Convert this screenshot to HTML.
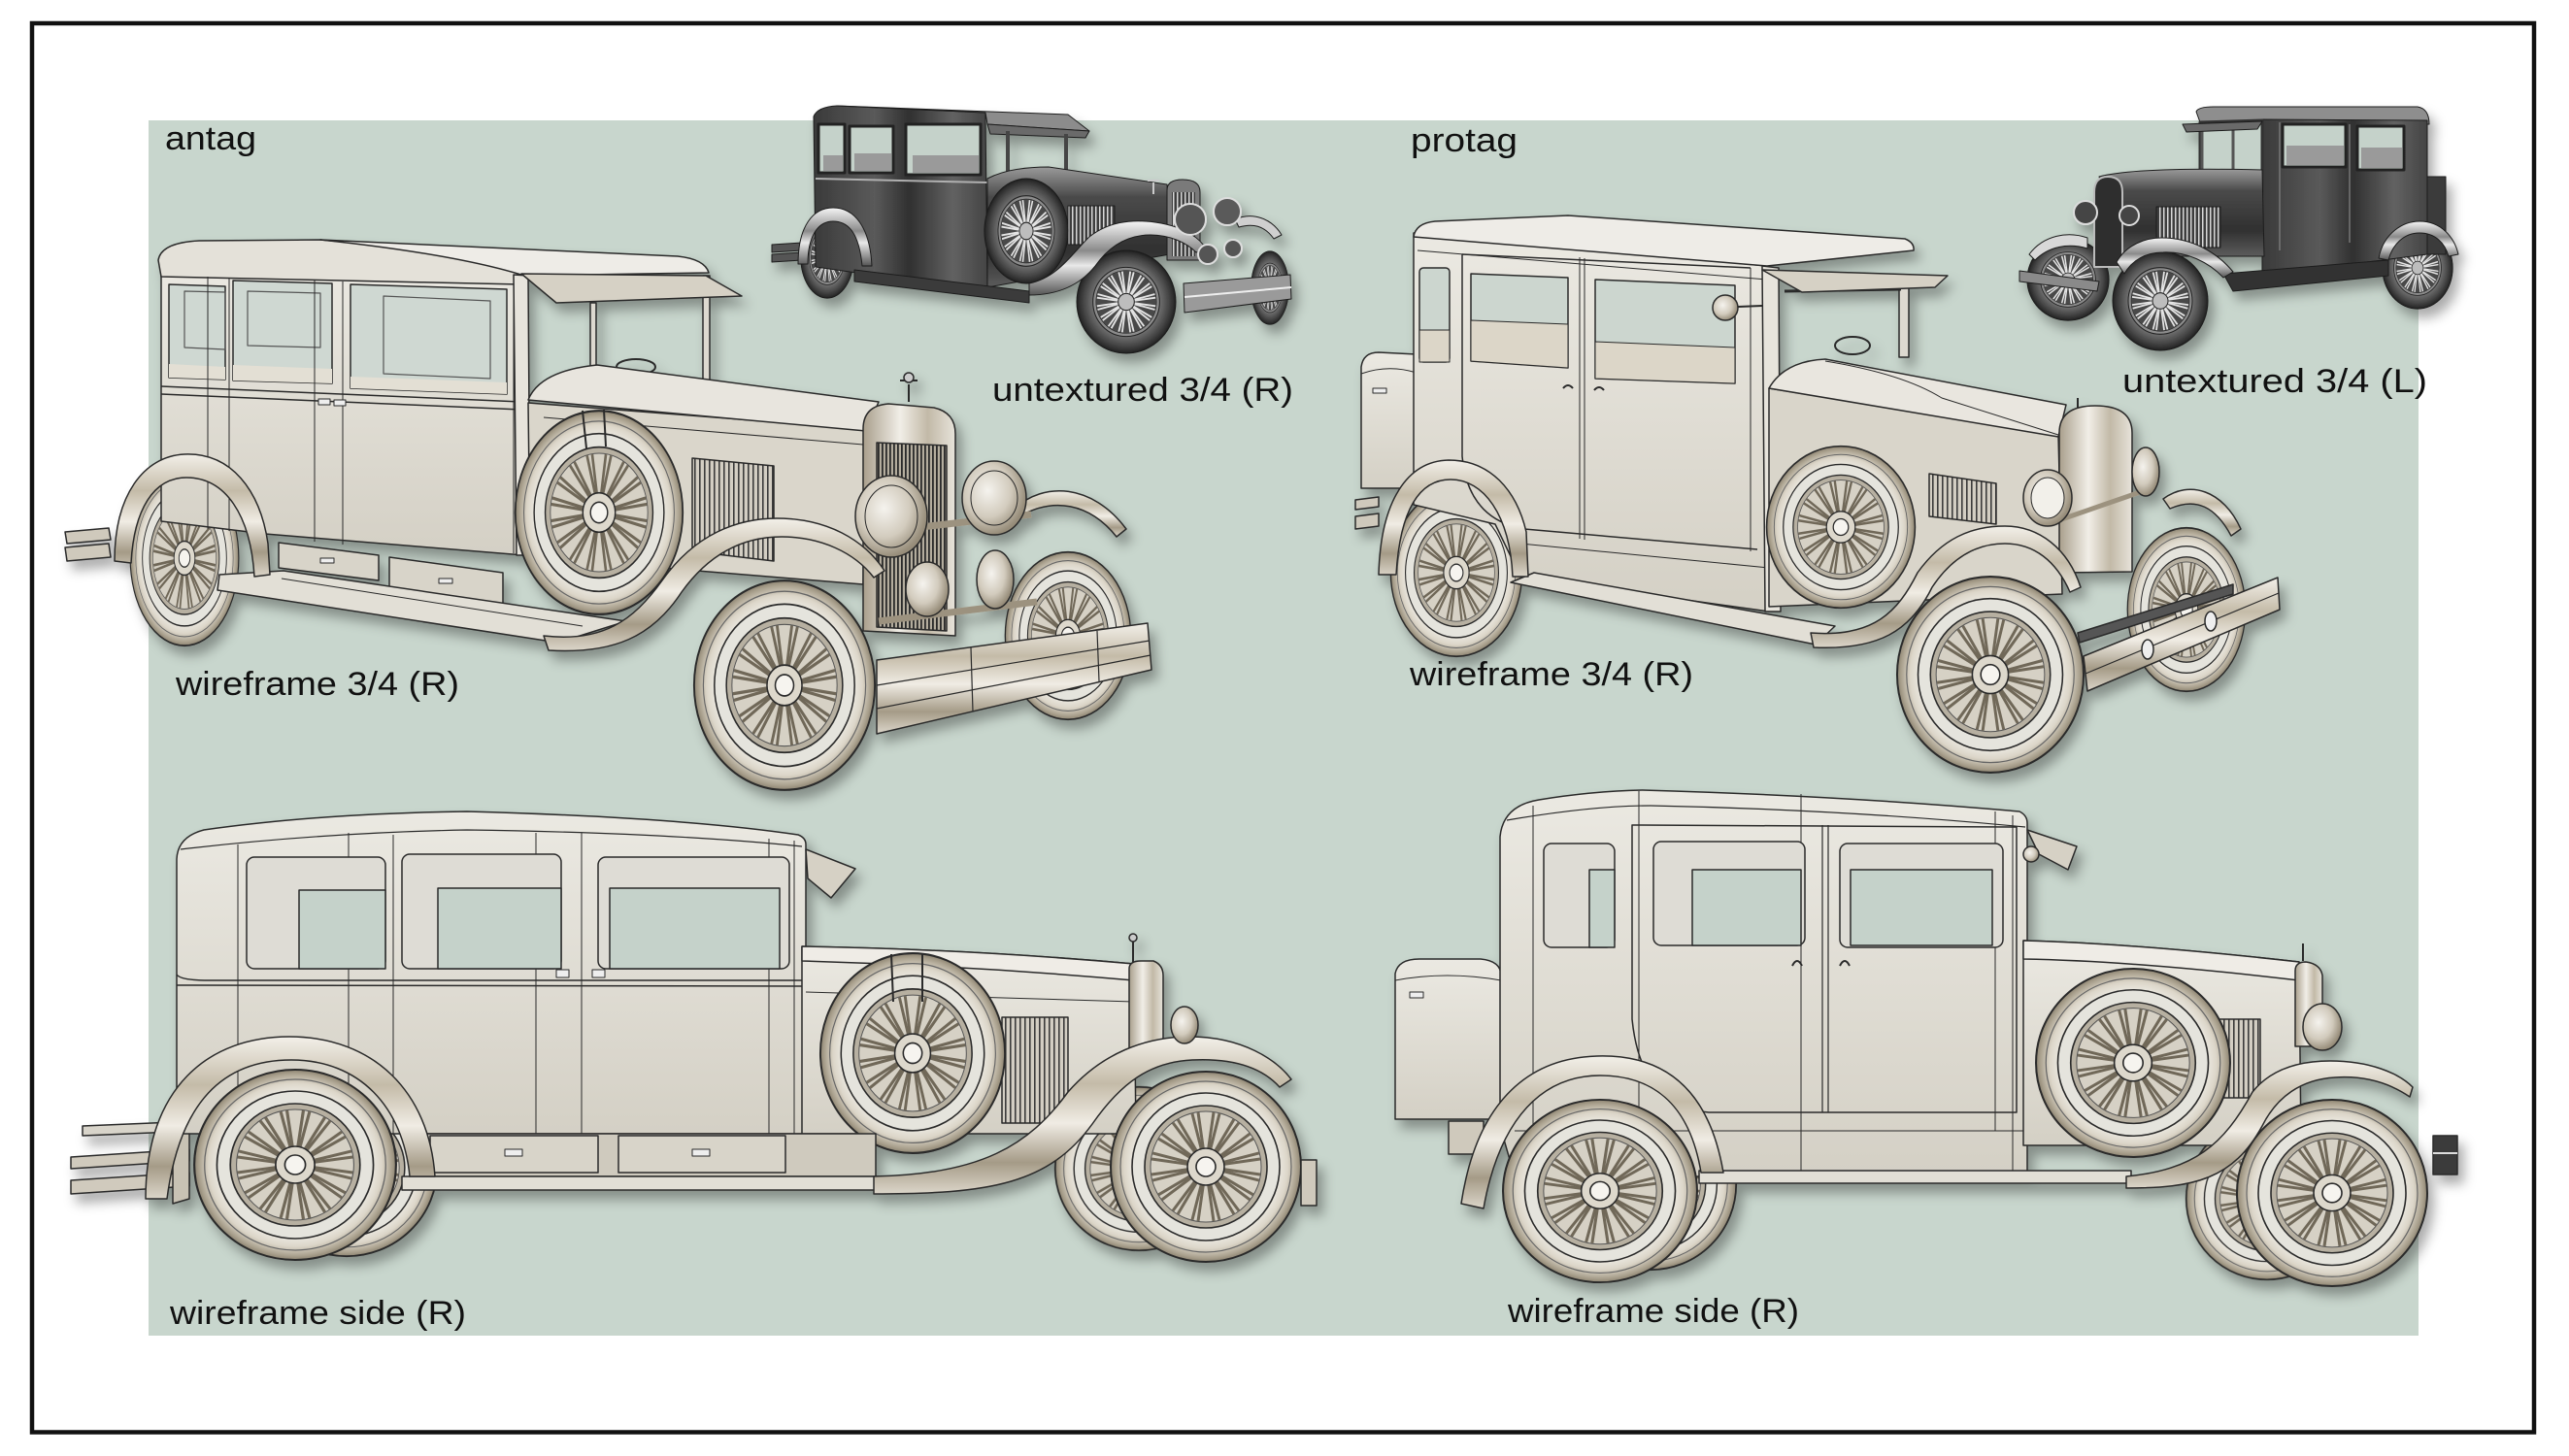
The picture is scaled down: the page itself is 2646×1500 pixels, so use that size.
<!DOCTYPE html>
<html><head><meta charset="utf-8">
<style>
html,body{margin:0;padding:0;background:#fff;width:2646px;height:1500px;overflow:hidden}
svg{display:block}
text{font-family:"Liberation Sans","DejaVu Sans",sans-serif;fill:#111}
</style></head>
<body>
<svg width="2646" height="1500" viewBox="0 0 2646 1500" xmlns="http://www.w3.org/2000/svg">
<defs>
  <filter id="sh" x="-10%" y="-10%" width="130%" height="130%">
    <feDropShadow dx="6" dy="9" stdDeviation="6" flood-color="#000" flood-opacity="0.33"/>
  </filter>
  <linearGradient id="body" x1="0" y1="0" x2="0" y2="1">
    <stop offset="0" stop-color="#ebe9e2"/><stop offset="1" stop-color="#d4d0c5"/>
  </linearGradient>
  <linearGradient id="chrome" x1="0" y1="0" x2="0" y2="1">
    <stop offset="0" stop-color="#f3f0e9"/><stop offset="0.3" stop-color="#c4bba8"/>
    <stop offset="0.55" stop-color="#f0ece4"/><stop offset="0.8" stop-color="#a59b87"/>
    <stop offset="1" stop-color="#dcd6ca"/>
  </linearGradient>
  <linearGradient id="chromeH" x1="0" y1="0" x2="1" y2="0">
    <stop offset="0" stop-color="#a99f8c"/><stop offset="0.4" stop-color="#f1eee7"/>
    <stop offset="0.7" stop-color="#c2b9a7"/><stop offset="1" stop-color="#e7e3da"/>
  </linearGradient>
  <radialGradient id="chromeR" cx="0.4" cy="0.4" r="0.6">
    <stop offset="0" stop-color="#f5f3ee"/><stop offset="0.6" stop-color="#d2cbbd"/>
    <stop offset="1" stop-color="#978d7a"/>
  </radialGradient>
  <radialGradient id="tire" cx="0.5" cy="0.5" r="0.5">
    <stop offset="0.74" stop-color="#eeece5"/><stop offset="0.86" stop-color="#dcd6c9"/>
    <stop offset="0.96" stop-color="#a89f8c"/><stop offset="1" stop-color="#8c8371"/>
  </radialGradient>
  <radialGradient id="dtire" cx="0.5" cy="0.5" r="0.5">
    <stop offset="0.68" stop-color="#6e6e6e"/><stop offset="0.85" stop-color="#484848"/>
    <stop offset="1" stop-color="#222"/>
  </radialGradient>
  <linearGradient id="dmetal" x1="0" y1="0" x2="1" y2="0">
    <stop offset="0" stop-color="#3a3a3a"/><stop offset="0.35" stop-color="#5a5a5a"/>
    <stop offset="0.55" stop-color="#303030"/><stop offset="0.8" stop-color="#626262"/>
    <stop offset="1" stop-color="#444"/>
  </linearGradient>
  <linearGradient id="dmetal2" x1="0" y1="0" x2="0" y2="1">
    <stop offset="0" stop-color="#9a9a9a"/><stop offset="0.25" stop-color="#4a4a4a"/>
    <stop offset="0.7" stop-color="#303030"/><stop offset="1" stop-color="#5c5c5c"/>
  </linearGradient>
  <linearGradient id="dchrome" x1="0" y1="0" x2="0" y2="1">
    <stop offset="0" stop-color="#f6f6f6"/><stop offset="0.4" stop-color="#8a8a8a"/>
    <stop offset="0.6" stop-color="#e9e9e9"/><stop offset="1" stop-color="#555"/>
  </linearGradient>
  <pattern id="lv" width="5" height="10" patternUnits="userSpaceOnUse">
    <rect width="5" height="10" fill="#d3cec3"/><rect width="1.6" height="10" fill="#3a3a3a"/>
  </pattern>
  <pattern id="lvd" width="4" height="10" patternUnits="userSpaceOnUse">
    <rect width="4" height="10" fill="#b4ad9e"/><rect width="1.8" height="10" fill="#2a2a2a"/>
  </pattern>
  <pattern id="lvg" width="4" height="10" patternUnits="userSpaceOnUse">
    <rect width="4" height="10" fill="#3c3c3c"/><rect width="1.5" height="10" fill="#d8d8d8"/>
  </pattern>

  <symbol id="wh" viewBox="-100 -100 200 200" preserveAspectRatio="none">
    <circle r="98" fill="url(#tire)" stroke="#2b2b2b" stroke-width="2"/>
    <circle r="88" fill="none" stroke="#666" stroke-width="1.2"/>
    <circle r="76" fill="#e5e4dd" stroke="#2b2b2b" stroke-width="1.6"/>
    <circle r="63" fill="#b7b0a1" stroke="#2b2b2b" stroke-width="1.6"/>
    <circle r="57" fill="#d6d1c5" stroke="#555" stroke-width="1"/>
    <g stroke="#6f6759" stroke-width="3" fill="none">
      <path d="M-8,-56L8,56M8,-56L-8,56"/>
      <path d="M-8,-56L8,56M8,-56L-8,56" transform="rotate(22.5)"/>
      <path d="M-8,-56L8,56M8,-56L-8,56" transform="rotate(45)"/>
      <path d="M-8,-56L8,56M8,-56L-8,56" transform="rotate(67.5)"/>
      <path d="M-8,-56L8,56M8,-56L-8,56" transform="rotate(90)"/>
      <path d="M-8,-56L8,56M8,-56L-8,56" transform="rotate(112.5)"/>
      <path d="M-8,-56L8,56M8,-56L-8,56" transform="rotate(135)"/>
      <path d="M-8,-56L8,56M8,-56L-8,56" transform="rotate(157.5)"/>
    </g>
    <circle r="19" fill="#ddd8cc" stroke="#2b2b2b" stroke-width="1.6"/>
    <circle r="10" fill="#f6f4ef" stroke="#2b2b2b" stroke-width="1.6"/>
  </symbol>

  <symbol id="whd" viewBox="-100 -100 200 200" preserveAspectRatio="none">
    <circle r="98" fill="url(#dtire)" stroke="#1a1a1a" stroke-width="2"/>
    <circle r="66" fill="#8c8c8c" stroke="#222" stroke-width="2"/>
    <circle r="60" fill="#4a4a4a"/>
    <g stroke="#e4e4e4" stroke-width="3.5" fill="none">
      <path d="M-8,-58L8,58M8,-58L-8,58"/>
      <path d="M-8,-58L8,58M8,-58L-8,58" transform="rotate(22.5)"/>
      <path d="M-8,-58L8,58M8,-58L-8,58" transform="rotate(45)"/>
      <path d="M-8,-58L8,58M8,-58L-8,58" transform="rotate(67.5)"/>
      <path d="M-8,-58L8,58M8,-58L-8,58" transform="rotate(90)"/>
      <path d="M-8,-58L8,58M8,-58L-8,58" transform="rotate(112.5)"/>
      <path d="M-8,-58L8,58M8,-58L-8,58" transform="rotate(135)"/>
      <path d="M-8,-58L8,58M8,-58L-8,58" transform="rotate(157.5)"/>
    </g>
    <circle r="16" fill="#bdbdbd" stroke="#222" stroke-width="2"/>
  </symbol>
</defs>

<rect width="2646" height="1500" fill="#fff"/>
<rect x="33" y="24" width="2577" height="1451.5" fill="none" stroke="#111" stroke-width="4.5"/>
<rect x="153" y="124" width="2338" height="1252" fill="#c8d6cd"/>

<!-- ================= CAR 2 : antag untextured ================= -->
<g filter="url(#sh)" stroke="#1e1e1e" stroke-width="1" stroke-linejoin="round">
  <use href="#whd" x="1288" y="258" width="40" height="77"/>
  <path d="M795,252 L826,250 L826,258 L795,260 Z M795,262 L826,260 L826,268 L795,270 Z" fill="#555"/>
  <use href="#whd" x="824" y="222" width="56" height="86"/>
  <path d="M838,120 Q842,110 862,109 L1015,116 L1017,300 L840,275 Z" fill="url(#dmetal)"/>
  <path d="M862,109 L1100,118 L1122,135 L1017,128 L1015,116 Z" fill="#8c8c8c"/>
  <path d="M1017,128 L1122,135 L1118,142 L1020,138 Z" fill="#6a6a6a"/>
  <path d="M843,128 H870 V178 H843 Z M875,130 H920 V178 H875 Z M933,128 H1010 V180 H933 Z" fill="#c5d2ca" stroke="#222" stroke-width="3"/>
  <path d="M848,160 H868 V176 H848 Z M880,158 H918 V176 H880 Z M940,160 H1008 V178 H940 Z" fill="#9a9a9a" stroke="none"/>
  <path d="M840,184 L1017,188" stroke="#b0b0b0" stroke-width="2" fill="none"/>
  <path d="M1038,135 V186 M1098,138 V190" stroke="#444" stroke-width="4" fill="none"/>
  <path d="M1017,184 Q1040,172 1080,172 L1202,190 L1205,262 L1017,296 Z" fill="url(#dmetal2)"/>
  <rect x="1100" y="212" width="48" height="40" fill="url(#lvg)"/>
  <path d="M1202,196 Q1202,185 1218,185 Q1236,185 1236,198 L1236,268 L1202,268 Z" fill="#7a7a7a"/>
  <rect x="1207" y="198" width="24" height="66" fill="url(#lvg)" stroke="none"/>
  <use href="#whd" x="1013" y="183" width="88" height="110"/>
  <path d="M880,278 L1060,300 L1060,312 L880,290 Z" fill="#3a3a3a"/>
  <path d="M822,272 C822,232 838,214 858,214 C880,214 896,234 898,274 L888,274 C885,242 875,228 858,228 C842,228 832,244 832,272 Z" fill="url(#dchrome)"/>
  <path d="M1272,226 C1290,218 1310,225 1320,242 L1312,246 C1302,232 1290,230 1276,234 Z" fill="#cfcfcf"/>
  <use href="#whd" x="1108" y="257" width="104" height="108"/>
  <path d="M1060,292 C1090,286 1105,260 1122,244 C1142,228 1168,225 1196,230 C1222,235 1236,246 1242,256 L1232,260 C1222,250 1205,242 1185,242 C1160,242 1142,254 1128,274 C1112,294 1090,304 1060,304 Z" fill="url(#dchrome)"/>
  <circle cx="1226" cy="226" r="16" fill="#555" stroke="#ddd" stroke-width="2"/>
  <circle cx="1264" cy="218" r="14" fill="#5a5a5a" stroke="#ddd" stroke-width="2"/>
  <circle cx="1244" cy="262" r="10" fill="#555" stroke="#ddd" stroke-width="2"/>
  <circle cx="1270" cy="256" r="9" fill="#555" stroke="#ddd" stroke-width="2"/>
  <path d="M1219,292 L1329,283 L1330,308 L1220,322 Z" fill="#9a9a9a"/>
  <path d="M1220,306 L1330,296" stroke="#eee" stroke-width="2" fill="none"/>
  <path d="M1188,200 L1188,188 M1182,186 L1194,186" stroke="#ccc" stroke-width="2" fill="none"/>
</g>

<!-- ================= CAR 4 : protag untextured ================= -->
<g filter="url(#sh)" stroke="#1e1e1e" stroke-width="1" stroke-linejoin="round">
  <use href="#whd" x="2087" y="245" width="86" height="86"/>
  <path d="M2090,262 C2105,242 2130,238 2150,245 L2150,256 C2130,250 2110,254 2096,268 Z" fill="#d8d8d8"/>
  <use href="#whd" x="2453" y="233" width="74" height="86"/>
  <path d="M2496,182 L2519,182 L2519,262 L2496,262 Z" fill="#3a3a3a"/>
  <path d="M2262,115 Q2264,110 2280,110 L2490,110 Q2502,112 2502,128 L2266,126 Z" fill="#8e8e8e"/>
  <path d="M2330,123 L2500,124 L2500,262 L2330,284 Z" fill="url(#dmetal)"/>
  <path d="M2266,126 L2330,124 L2330,200 L2266,200 Z" fill="#c5d2ca" stroke="#333" stroke-width="3"/>
  <path d="M2268,128 V200 M2300,126 V198" stroke="#555" stroke-width="3" fill="none"/>
  <path d="M2248,128 L2330,125 L2325,133 L2252,136 Z" fill="#6a6a6a"/>
  <path d="M2351,128 H2416 V172 H2351 Z M2428,130 H2476 V175 H2428 Z" fill="#c5d2ca" stroke="#222" stroke-width="3"/>
  <path d="M2355,150 H2414 V170 H2355 Z M2432,152 H2474 V173 H2432 Z" fill="#9a9a9a" stroke="none"/>
  <path d="M2420,128 V250 M2348,126 V258" stroke="#777" stroke-width="1.5" fill="none"/>
  <path d="M2162,182 Q2200,172 2330,175 L2332,264 L2187,264 Z" fill="url(#dmetal2)"/>
  <rect x="2221" y="213" width="66" height="42" fill="url(#lvg)"/>
  <path d="M2157,198 Q2157,182 2171,182 Q2186,182 2186,198 L2186,275 L2157,275 Z" fill="#2e2e2e" stroke="#bbb" stroke-width="2"/>
  <circle cx="2148" cy="219" r="12" fill="#444" stroke="#ddd" stroke-width="2"/>
  <circle cx="2193" cy="222" r="10" fill="#444" stroke="#ddd" stroke-width="2"/>
  <path d="M2290,282 L2460,268 L2460,284 L2300,300 Z" fill="#333"/>
  <path d="M2450,266 C2455,240 2475,228 2492,228 C2515,228 2528,245 2532,262 L2522,264 C2518,250 2508,240 2492,240 C2476,240 2464,252 2460,268 Z" fill="url(#dchrome)"/>
  <use href="#whd" x="2175" y="258" width="100" height="104"/>
  <path d="M2180,270 C2190,252 2210,245 2226,245 C2260,245 2285,262 2300,280 L2290,286 C2275,270 2252,259 2228,260 C2210,260 2196,268 2188,282 Z" fill="url(#dchrome)"/>
  <path d="M2080,279 L2162,290 L2160,300 L2080,290 Z" fill="#8a8a8a"/>
</g>

<!-- ================= CAR 1 : antag wireframe 3/4 ================= -->
<g filter="url(#sh)" stroke="#2a2a2a" stroke-width="1.5" stroke-linejoin="round">
  <use href="#wh" x="1034" y="567" width="132" height="176"/>
  <path d="M1045,524 C1075,496 1125,498 1160,545 L1150,553 C1122,518 1085,512 1050,532 Z" fill="url(#chrome)"/>
  <path d="M905,690 L1090,662 L1090,672 L905,700 Z" fill="#555"/>
  <path d="M67,548 L112,544 L114,556 L69,560 Z M67,564 L112,560 L114,574 L69,578 Z" fill="#cfc9bc"/>
  <use href="#wh" x="133" y="483" width="114" height="184"/>
  <path d="M166,265 L537,283 L540,572 L273,550 L166,537 Z" fill="url(#body)"/>
  <path d="M163,268 Q166,250 205,248 L330,247 Q450,258 537,276 L537,293 L166,285 Z" fill="#e4e1d9"/>
  <path d="M330,247 L698,264 Q726,267 730,281 L540,284 Q470,262 330,247 Z" fill="#eeece7"/>
  <path d="M174,293 L232,295 L232,391 L174,389 Z" fill="#cfd8d2"/>
  <path d="M240,289 L342,292 L342,395 L240,392 Z" fill="#cfd8d2"/>
  <path d="M361,293 L522,298 L522,406 L361,400 Z" fill="#cfd8d2"/>
  <path d="M190,300 L232,301 L232,360 L190,358 Z M255,300 L330,302 L330,358 L255,356 Z M395,305 L505,310 L505,390 L395,385 Z" fill="none" stroke="#555" stroke-width="1.2"/>
  <path d="M174,375 L232,378 L232,391 L174,389 Z M240,376 L342,380 L342,395 L240,392 Z M361,388 L522,394 L522,406 L361,400 Z" fill="#e3dfd4" stroke="none"/>
  <path d="M166,398 L537,414 M166,406 L537,422" fill="none"/>
  <path d="M214,285 V545 M236,286 V547 M324,288 V558 M353,290 V561 M529,292 V570" fill="none" stroke-width="1"/>
  <path d="M328,411 h12 v6 h-12 Z M344,412 h12 v6 h-12 Z" fill="#eee" stroke-width="1"/>
  <path d="M529,283 L544,284 L546,572 L532,572 Z" fill="#e7e4dc"/>
  <path d="M724,284 L731,284 L731,405 L724,405 Z" fill="#ddd9d0"/>
  <path d="M608,312 L614,312 L614,400 L608,400 Z" fill="#ddd9d0"/>
  <ellipse cx="655" cy="378" rx="20" ry="8" fill="none" stroke-width="2"/>
  <path d="M544,415 L890,442 L889,602 L546,574 Z" fill="#dad6cb"/>
  <path d="M544,412 Q556,382 615,376 L905,414 L892,444 Z" fill="#e8e5de"/>
  <path d="M560,430 L889,458" fill="none" stroke-width="1"/>
  <path d="M713,472 L797,480 L797,578 L713,568 Z" fill="url(#lv)"/>
  <path d="M889,442 Q889,418 915,416 L962,420 Q984,425 984,447 L984,655 L889,650 Z" fill="url(#chromeH)"/>
  <path d="M903,456 L975,459 L975,650 L903,646 Z" fill="url(#lvd)"/>
  <path d="M936,414 V396 M927,392 L945,392" fill="none" stroke-width="2"/>
  <circle cx="936" cy="389" r="5" fill="#ccc"/>
  <use href="#wh" x="529" y="421" width="176" height="214"/>
  <path d="M600,423 L604,462 M622,422 L624,460" fill="none" stroke-width="2"/>
  <path d="M287,559 L390,572 L390,598 L287,585 Z M401,574 L518,590 L518,628 L401,612 Z" fill="#d8d4c9"/>
  <path d="M330,575 h14 v5 h-14 Z M452,596 h14 v5 h-14 Z" fill="#eee" stroke-width="1"/>
  <path d="M226,592 L292,588 L645,640 L575,662 L224,608 Z" fill="#e2dfd6"/>
  <path d="M290,596 L600,645" fill="none" stroke-width="1"/>
  <path d="M118,578 C118,510 148,470 190,468 C238,466 268,505 276,560 L278,592 L262,594 C258,530 232,492 192,492 C158,492 138,525 135,580 Z" fill="url(#chrome)"/>
  <path d="M905,548 L1062,530" stroke="#9c927f" stroke-width="7" fill="none"/>
  <path d="M905,640 L1068,620" stroke="#9c927f" stroke-width="7" fill="none"/>
  <ellipse cx="918" cy="532" rx="37" ry="42" fill="url(#chromeR)"/>
  <ellipse cx="918" cy="532" rx="27" ry="32" fill="none" stroke-width="1"/>
  <ellipse cx="1024" cy="513" rx="33" ry="38" fill="url(#chromeR)"/>
  <ellipse cx="1024" cy="513" rx="24" ry="28" fill="none" stroke-width="1"/>
  <ellipse cx="955" cy="607" rx="22" ry="28" fill="url(#chromeR)"/>
  <ellipse cx="1025" cy="597" rx="19" ry="30" fill="url(#chromeR)"/>
  <use href="#wh" x="713" y="596" width="190" height="220"/>
  <path d="M560,655 C620,662 652,640 682,598 C716,550 760,534 800,534 C852,534 890,556 911,588 L900,595 C880,569 845,553 805,553 C765,553 730,571 702,610 C672,656 632,674 565,670 Z" fill="url(#chrome)"/>
  <path d="M903,680 L1182,642 L1186,690 L903,756 Z" fill="url(#chrome)"/>
  <path d="M903,706 L1184,660 M903,730 L1185,675 M1000,667 L1002,733 M1130,650 L1132,702" fill="none" stroke-width="1.2"/>
  <path d="M537,282 L727,284 L764,305 L573,312 Z" fill="#d6d1c5"/>
</g>

<!-- ================= CAR 3 : protag wireframe 3/4 ================= -->
<g filter="url(#sh)" stroke="#2a2a2a" stroke-width="1.5" stroke-linejoin="round">
  <use href="#wh" x="2190" y="542" width="124" height="172"/>
  <path d="M2228,514 C2255,494 2290,505 2308,545 L2298,552 C2282,522 2262,512 2235,524 Z" fill="url(#chrome)"/>
  <path d="M2140,652 L2300,602 L2300,612 L2142,662 Z" fill="#555"/>
  <path d="M1396,515 L1420,512 L1420,522 L1396,525 Z M1396,532 L1420,529 L1420,542 L1396,545 Z" fill="#cfc9bc"/>
  <path d="M1402,503 L1402,378 Q1404,363 1420,363 L1459,365 L1459,503 Z" fill="url(#body)"/>
  <path d="M1402,385 Q1430,375 1459,384" fill="none" stroke-width="1"/>
  <path d="M1414,400 h14 v5 h-14 Z" fill="#eee" stroke-width="1"/>
  <use href="#wh" x="1431" y="502" width="138" height="176"/>
  <path d="M1456,240 L1820,274 L1822,630 L1566,594 L1540,540 L1456,520 Z" fill="url(#body)"/>
  <path d="M1456,244 Q1458,230 1478,228 L1615,222 L1962,246 Q1972,250 1971,258 L1820,274 Z" fill="#eeece7"/>
  <path d="M1460,258 L1820,288" fill="none" stroke-width="1"/>
  <rect x="1462" y="276" width="31" height="97" rx="4" fill="#ccd6cf"/>
  <path d="M1515,282 L1615,286 L1615,379 L1515,372 Z" fill="#ccd6cf"/>
  <path d="M1643,288 L1787,294 L1787,395 L1643,390 Z" fill="#ccd6cf"/>
  <path d="M1515,330 L1615,334 L1615,379 L1515,372 Z M1643,352 L1787,358 L1787,395 L1643,390 Z M1462,340 H1493 V373 H1462 Z" fill="#dcd6c8" stroke-width="1"/>
  <path d="M1506,262 L1803,276 M1506,262 L1506,470 Q1512,535 1570,545 L1810,566" fill="none"/>
  <path d="M1627,265 V555 M1632,266 V556 M1803,276 V568" fill="none" stroke-width="1"/>
  <path d="M1610,400 q5,-6 10,0 M1642,402 q5,-6 10,0" fill="none" stroke-width="2"/>
  <path d="M1566,560 L1822,585" fill="none" stroke-width="1"/>
  <path d="M1815,274 L1832,276 L1834,630 L1818,630 Z" fill="#e7e4dc"/>
  <path d="M1956,284 L1966,284 L1966,368 L1956,368 Z" fill="#ddd9d0"/>
  <path d="M1838,300 L1958,298" fill="none" stroke-width="3"/>
  <circle cx="1777" cy="317" r="13" fill="url(#chromeR)"/>
  <path d="M1790,316 L1815,315" fill="none" stroke-width="2"/>
  <ellipse cx="1908" cy="356" rx="18" ry="9" fill="none" stroke-width="2"/>
  <path d="M1822,400 L2120,448 L2124,612 L1822,625 Z" fill="#d9d5ca"/>
  <path d="M1822,400 Q1838,372 1880,370 L2128,417 L2120,450 Z" fill="#e9e6df"/>
  <path d="M1880,372 Q1960,385 2000,410 L2120,448" fill="none" stroke-width="1"/>
  <path d="M1987,488 L2056,498 L2056,540 L1987,532 Z" fill="url(#lv)"/>
  <path d="M2121,590 L2121,446 Q2121,418 2158,418 Q2196,418 2196,446 L2196,589 Z" fill="url(#chromeH)"/>
  <path d="M2140,410 V420" fill="none" stroke-width="2"/>
  <use href="#wh" x="1818" y="458" width="156" height="170"/>
  <path d="M1556,600 L1580,590 L1890,645 L1870,664 Z" fill="#e2dfd6"/>
  <path d="M1420,592 C1422,515 1450,475 1492,474 C1535,474 1562,505 1572,548 L1574,594 L1558,594 C1555,530 1528,494 1494,494 C1462,494 1442,525 1438,592 Z" fill="url(#chrome)"/>
  <path d="M2109,540 L2210,505" stroke="#9c927f" stroke-width="5" fill="none"/>
  <ellipse cx="2109" cy="513" rx="25" ry="29" fill="url(#chromeR)"/>
  <ellipse cx="2109" cy="513" rx="17" ry="21" fill="#f2f0ea" stroke-width="1"/>
  <ellipse cx="2210" cy="486" rx="14" ry="25" fill="url(#chromeR)"/>
  <use href="#wh" x="1952" y="592" width="196" height="206"/>
  <path d="M1865,652 C1930,657 1955,630 1975,590 C2000,555 2030,542 2065,542 C2100,542 2130,565 2143,605 L2132,610 C2118,578 2095,560 2065,560 C2035,560 2010,575 1990,605 C1968,650 1935,670 1868,667 Z" fill="url(#chrome)"/>
  <path d="M2146,676 L2346,595 L2348,628 L2150,712 Z" fill="url(#chrome)"/>
  <path d="M2148,694 L2347,611" fill="none" stroke-width="1.2"/>
  <ellipse cx="2212" cy="669" rx="6" ry="10" fill="#eee"/>
  <ellipse cx="2277" cy="640" rx="6" ry="10" fill="#eee"/>
  <path d="M1815,278 L2006,284 L1993,296 L1856,301 Z" fill="#d6d1c5"/>
</g>

<!-- ================= CAR 5 : antag side ================= -->
<g filter="url(#sh)" stroke="#2a2a2a" stroke-width="1.5" stroke-linejoin="round">
  <use href="#wh" x="262" y="1110" width="190" height="186"/>
  <use href="#wh" x="1085" y="1118" width="176" height="172"/>
  <path d="M85,1160 L180,1156 L180,1166 L85,1170 Z" fill="#d8d4ca"/>
  <path d="M73,1192 L195,1184 L195,1196 L73,1204 Z M73,1216 L195,1208 L195,1222 L73,1230 Z" fill="#d0cabd"/>
  <path d="M178,1160 L195,1160 L195,1235 L178,1240 Z" fill="#c8c2b4"/>
  <path d="M182,1168 L182,885 Q183,862 210,855 Q330,838 481,836 Q700,842 822,860 Q830,863 830,870 L830,1168 Z" fill="url(#body)"/>
  <path d="M186,875 Q330,858 481,855 Q690,858 826,872" fill="none" stroke-width="1.2"/>
  <path d="M182,1004 Q186,1010 215,1010 L830,1010 M182,1015 L830,1016" fill="none"/>
  <path d="M245,870 V1168 M359,858 V1168 M405,860 V1168 M552,858 V1168 M599,858 V1168 M792,864 V1168 M818,866 V1168" fill="none" stroke-width="1"/>
  <rect x="254" y="883" width="143" height="115" rx="8" fill="#dedcd5"/>
  <rect x="308" y="917" width="89" height="81" fill="#c5d2ca"/>
  <rect x="414" y="880" width="164" height="118" rx="8" fill="#dedcd5"/>
  <rect x="451" y="915" width="127" height="83" fill="#c5d2ca"/>
  <rect x="616" y="883" width="197" height="115" rx="8" fill="#dedcd5"/>
  <rect x="628" y="915" width="175" height="83" fill="#c5d2ca"/>
  <path d="M573,999 h13 v8 h-13 Z M610,999 h13 v8 h-13 Z" fill="#eee" stroke-width="1"/>
  <path d="M826,975 Q1000,978 1168,993 L1170,1168 L826,1168 Z" fill="url(#body)"/>
  <path d="M826,975 Q1000,978 1168,993 L1168,1010 Q1000,995 826,990 Z" fill="#efece6"/>
  <path d="M830,1022 L1168,1032" fill="none" stroke-width="1"/>
  <rect x="1032" y="1048" width="68" height="109" fill="url(#lv)"/>
  <path d="M1163,998 Q1163,990 1175,990 L1188,990 Q1198,994 1198,1005 L1198,1095 L1163,1095 Z" fill="url(#chromeH)"/>
  <path d="M1167,992 V970" fill="none" stroke-width="2"/>
  <circle cx="1167" cy="966" r="4" fill="#ccc"/>
  <use href="#wh" x="843" y="980" width="194" height="210"/>
  <path d="M918,983 L920,1032 M950,983 L950,1032" fill="none" stroke-width="2"/>
  <path d="M430,1168 L902,1168 L902,1212 L430,1212 Z" fill="#cfcabe"/>
  <rect x="443" y="1170" width="173" height="38" fill="#d8d4c9"/>
  <rect x="637" y="1170" width="172" height="38" fill="#d8d4c9"/>
  <rect x="520" y="1184" width="18" height="7" fill="#eee" stroke-width="1"/>
  <rect x="713" y="1184" width="18" height="7" fill="#eee" stroke-width="1"/>
  <path d="M414,1212 L905,1212 L905,1226 L414,1226 Z" fill="#e2dfd6"/>
  <use href="#wh" x="198" y="1100" width="212" height="200"/>
  <path d="M150,1235 C150,1120 215,1068 298,1068 C385,1068 442,1125 448,1212 L422,1212 C415,1140 370,1092 300,1092 C230,1092 185,1135 172,1235 Z" fill="url(#chrome)"/>
  <use href="#wh" x="1142" y="1102" width="200" height="200"/>
  <path d="M900,1212 C1010,1210 1060,1180 1100,1125 C1135,1085 1180,1068 1225,1068 C1280,1068 1315,1092 1330,1112 L1318,1120 C1300,1100 1270,1090 1228,1092 C1185,1094 1155,1115 1125,1158 C1080,1220 1020,1230 900,1230 Z" fill="url(#chrome)"/>
  <ellipse cx="1220" cy="1056" rx="14" ry="19" fill="url(#chromeR)"/>
  <path d="M1340,1195 L1356,1195 L1356,1242 L1340,1242 Z" fill="#cfc9bc"/>
  <path d="M830,875 L881,895 L856,925 L832,905 Z" fill="#d6d1c5"/>
</g>

<!-- ================= CAR 6 : protag side ================= -->
<g filter="url(#sh)" stroke="#2a2a2a" stroke-width="1.5" stroke-linejoin="round">
  <use href="#wh" x="1610" y="1130" width="180" height="180"/>
  <use href="#wh" x="2250" y="1150" width="170" height="170"/>
  <path d="M1437,1153 L1437,1003 Q1440,988 1462,988 L1525,988 Q1546,990 1546,1005 L1546,1153 Z" fill="url(#body)"/>
  <path d="M1437,1010 Q1490,1000 1546,1010" fill="none" stroke-width="1"/>
  <rect x="1452" y="1022" width="14" height="6" fill="#eee" stroke-width="1"/>
  <path d="M1492,1155 L1528,1155 L1528,1189 L1492,1189 Z" fill="#cfc9bc"/>
  <path d="M1545,1160 L1545,862 Q1548,830 1585,824 Q1640,815 1692,814 Q1900,820 2080,836 Q2088,840 2088,848 L2088,1212 L1560,1212 Z" fill="url(#body)"/>
  <path d="M1552,845 Q1640,830 1700,830 Q1900,834 2086,852" fill="none" stroke-width="1.2"/>
  <path d="M1579,830 V1210 M1688,815 V1210 M1855,818 V1210 M2055,836 V1165 M2073,840 V1212" fill="none" stroke-width="1"/>
  <path d="M1681,850 L1681,1050 Q1690,1140 1760,1146 L2077,1146 L2077,852 Z" fill="none"/>
  <path d="M1877,850 V1146 M1883,850 V1146" fill="none" stroke-width="1.2"/>
  <path d="M1560,1165 L2088,1165" fill="none" stroke-width="1"/>
  <rect x="1590" y="869" width="73" height="107" rx="8" fill="#dedcd5"/>
  <rect x="1637" y="896" width="26" height="80" fill="#c5d2ca"/>
  <rect x="1703" y="867" width="156" height="107" rx="8" fill="#dedcd5"/>
  <rect x="1743" y="896" width="112" height="78" fill="#c5d2ca"/>
  <rect x="1895" y="869" width="168" height="107" rx="8" fill="#dedcd5"/>
  <rect x="1906" y="896" width="146" height="78" fill="#c5d2ca"/>
  <path d="M1846,995 q5,-10 10,0 M1895,995 q5,-10 10,0" fill="none" stroke-width="2"/>
  <path d="M2084,969 Q2200,972 2368,991 L2370,1180 L2084,1180 Z" fill="url(#body)"/>
  <path d="M2084,969 Q2200,972 2368,991 L2368,1010 Q2200,990 2084,988 Z" fill="#efece6"/>
  <rect x="2197" y="1050" width="131" height="81" fill="url(#lv)"/>
  <path d="M2364,1000 Q2364,991 2375,991 Q2390,993 2392,1005 L2392,1078 L2364,1078 Z" fill="url(#chromeH)"/>
  <path d="M2372,990 V972" fill="none" stroke-width="2"/>
  <ellipse cx="2392" cy="1058" rx="20" ry="24" fill="url(#chromeR)"/>
  <use href="#wh" x="2095" y="996" width="204" height="198"/>
  <path d="M1750,1206 L2195,1206 L2195,1219 L1750,1219 Z" fill="#e2dfd6"/>
  <use href="#wh" x="1546" y="1131" width="204" height="192"/>
  <path d="M1505,1240 C1520,1140 1570,1090 1645,1088 C1712,1086 1760,1120 1775,1208 L1752,1208 C1740,1135 1700,1108 1648,1108 C1590,1108 1545,1150 1528,1245 Z" fill="url(#chrome)"/>
  <use href="#wh" x="2302" y="1131" width="200" height="196"/>
  <path d="M2190,1212 C2260,1205 2290,1180 2320,1125 C2340,1100 2370,1093 2400,1093 C2440,1093 2470,1105 2485,1120 L2482,1130 C2460,1115 2435,1108 2405,1110 C2370,1112 2345,1130 2330,1160 C2300,1215 2260,1224 2190,1224 Z" fill="url(#chrome)"/>
  <path d="M2506,1170 L2531,1170 L2531,1210 L2506,1210 Z" fill="#3a3a3a"/>
  <path d="M2506,1188 L2531,1188" stroke="#ddd" stroke-width="2" fill="none"/>
  <path d="M2088,855 L2139,872 L2130,896 L2100,880 Z" fill="#d6d1c5"/>
  <circle cx="2092" cy="880" r="8" fill="url(#chromeR)"/>
</g>

<!-- ================= LABELS ================= -->
<text x="170" y="154" font-size="34" textLength="94" lengthAdjust="spacingAndGlyphs">antag</text>
<text x="1453" y="156" font-size="34" textLength="110" lengthAdjust="spacingAndGlyphs">protag</text>
<text x="1022" y="413" font-size="34" textLength="310" lengthAdjust="spacingAndGlyphs">untextured 3/4 (R)</text>
<text x="2186" y="404" font-size="34" textLength="314" lengthAdjust="spacingAndGlyphs">untextured 3/4 (L)</text>
<text x="181" y="716" font-size="34" textLength="292" lengthAdjust="spacingAndGlyphs">wireframe 3/4 (R)</text>
<text x="1452" y="706" font-size="34" textLength="292" lengthAdjust="spacingAndGlyphs">wireframe 3/4 (R)</text>
<text x="175" y="1364" font-size="34" textLength="305" lengthAdjust="spacingAndGlyphs">wireframe side (R)</text>
<text x="1553" y="1362" font-size="34" textLength="300" lengthAdjust="spacingAndGlyphs">wireframe side (R)</text>
</svg>
</body></html>
